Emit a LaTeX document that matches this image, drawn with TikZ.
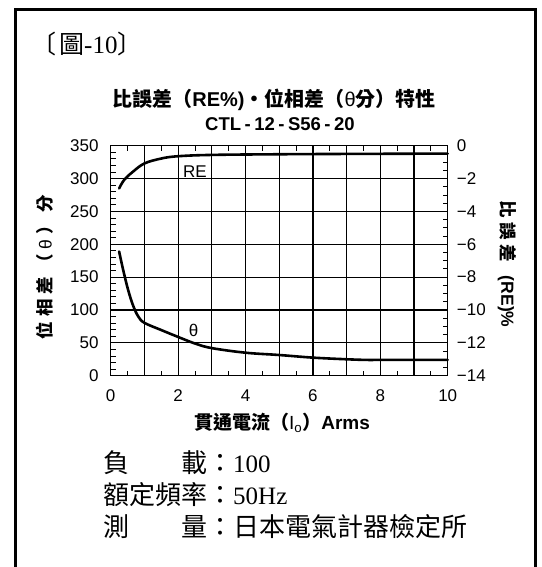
\documentclass[tikz,border=0pt]{standalone}
\usepackage{fontspec}
\setmainfont{Liberation Serif}
\setsansfont{Liberation Sans}
\newfontfamily\cjk{Noto Sans CJK TC}
\newcommand{\gp}{\hspace{5pt}}
\newcommand{\gq}{\hspace{4.5pt}}
\begin{document}
\begin{tikzpicture}[x=1pt,y=-1pt,
  frameline/.style={line width=2.4pt},
  gridline/.style={line width=1.2pt},
  axisline/.style={line width=1.4pt},
  curve/.style={line width=2.6pt, line cap=round},
  tick/.style={line width=0.9pt},
  ticklabel/.style={font=\sffamily\fontsize{17}{17}\selectfont, inner sep=0pt},
  axistitle/.style={inner sep=0pt, font=\cjk\bfseries\fontsize{17.5}{17.5}\selectfont},
  bodytext/.style={anchor=west, inner sep=0pt, font=\cjk\fontsize{26}{26}\selectfont}]
\useasboundingbox (0,0) rectangle (541,567);
% frame (open at the bottom)
\draw[frameline] (15.3,567) -- (15.3,9.5) -- (535.3,9.5) -- (535.3,567);
% heading
\node[anchor=west, inner sep=0pt, font=\fontsize{25}{25}\selectfont] (fig) at (31,44) {{\cjk 〔}\hspace{3pt}{\cjk 圖}-10{\cjk 〕}};
\node[inner sep=0pt, font=\bfseries\fontsize{20}{20}\selectfont] (title) at (274,100) {{\cjk 比誤差（}{\sffamily RE\%)}{\cjk ・位相差（}{\sffamily\mdseries θ}{\cjk 分）特性}};
\node[inner sep=0pt, font=\sffamily\bfseries\fontsize{18.5}{18.5}\selectfont] (model) at (280,124) {CTL\hspace{3.5pt}-\hspace{3.5pt}12\hspace{3.5pt}-\hspace{3.5pt}S56\hspace{3.5pt}-\hspace{3.5pt}20};
% plot
\begin{scope}[shift={(110.7,375.7)}]
\begin{scope}[x=33.7pt, y=0.6571pt]
  \foreach \u in {1,...,9} \draw[gridline] (\u,0) -- (\u,350);
  \foreach \v in {50,100,...,300} \draw[gridline] (0,\v) -- (10,\v);
  \foreach \v in {10,20,...,340} \draw[tick] (0,\v) -- ++(5pt,0);
  \foreach \r in {1,...,27} \draw[tick] (10,\r*350/28) -- ++(-5pt,0);
  \foreach \u in {0.5,1.5,...,9.5} {\draw[tick] (\u,0) -- ++(0,5pt); \draw[tick] (\u,350) -- ++(0,-5pt);}
  \draw[axisline] (0,0) rectangle (10,350);
  \draw[curve] plot[smooth, tension=0.6] coordinates {(0.25,285) (0.4,298) (0.65,310) (1,323) (1.5,330.5) (2,334) (3,336) (5,337) (7,337.5) (10,338)};
  \draw[curve] plot[smooth, tension=0.6] coordinates {(0.25,189) (0.37,161) (0.52,130) (0.67,106) (0.82,90) (1,80.5) (1.5,69.5) (2,59) (2.5,49) (3,42) (4,35) (5,31.5) (6,27.5) (7,25) (7.6,24) (8,24) (10,24)};
  \node[font=\sffamily\fontsize{17}{17}\selectfont, inner sep=0pt] (lre) at (2.5,311) {RE};
  \node[font=\sffamily\fontsize{17}{17}\selectfont, inner sep=0pt] (lth) at (2.46,69) {θ};
  \foreach \v in {0,50,...,350} \node[ticklabel, anchor=east] (yl\v) at ([xshift=-12pt]0,\v) {\v};
  \foreach \u in {0,2,...,10} \node[ticklabel, anchor=north] (xl\u) at ([yshift=-14pt]\u,0) {\u};
  \foreach \r/\t in {0/0,1/−2,2/−4,3/−6,4/−8,5/−10,6/−12,7/−14} \node[ticklabel, anchor=west] (yr\r) at ([xshift=9pt]10,350-\r*50) {\t};
\end{scope}
\end{scope}
% axis titles
\node[rotate=90, axistitle] (ylab) at (45,267) {位\gp 相\gp 差\gp （\gp{\sffamily\mdseries θ}\gp ）\gp 分};
\node[rotate=-90, axistitle] (rlab) at (507,264) {比\gq 誤\gq 差\hspace{14pt}{\sffamily (RE)\%}};
\node[inner sep=0pt, font=\bfseries\fontsize{19}{19}\selectfont] (xlab) at (282,423) {{\cjk 貫通電流（}{\sffamily\mdseries I\textsubscript{o}}{\cjk ）}{\sffamily Arms}};
% notes
\node[bodytext] (n1) at (103,463) {負　　載：{\rmfamily\fontsize{25}{25}\selectfont 100}};
\node[bodytext] (n2) at (103,495) {額定頻率：{\rmfamily\fontsize{25}{25}\selectfont 50Hz}};
\node[bodytext] (n3) at (103,527) {測　　量：日本電氣計器檢定所};
\end{tikzpicture}
\end{document}
